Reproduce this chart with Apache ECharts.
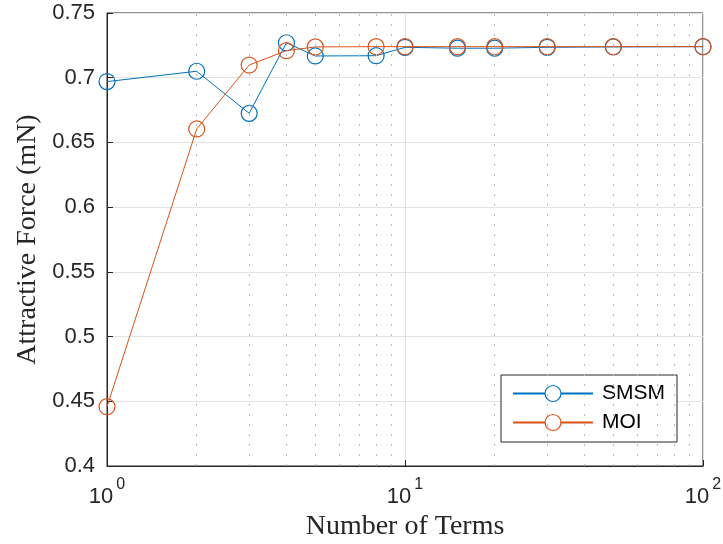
<!DOCTYPE html>
<html>
<head>
<meta charset="utf-8">
<script src="https://cdn.jsdelivr.net/npm/echarts@6/dist/echarts.min.js"></script>
<style>html,body{margin:0;padding:0;background:#fff;}#c{width:723px;height:544px;}</style>
</head>
<body>
<div id="c"></div>
<script>
const terms = [1, 2, 3, 4, 5, 8, 10, 15, 20, 30, 50, 100];
const smsm = [0.697, 0.705, 0.6725, 0.727, 0.7168, 0.717, 0.7235, 0.7228, 0.7228, 0.7235, 0.7238, 0.724];
const moi  = [0.4458, 0.6604, 0.7098, 0.7209, 0.7238, 0.724, 0.724, 0.724, 0.724, 0.724, 0.724, 0.724];
const minorX = [2, 3, 4, 5, 6, 7, 8, 9, 20, 30, 40, 50, 60, 70, 80, 90];
const yTicks = [0.4, 0.45, 0.5, 0.55, 0.6, 0.65, 0.7, 0.75];

const chart = echarts.init(document.getElementById('c'), null, {renderer: 'canvas'});
const axisColor = '#262626';
const blue = '#0072BD', orange = '#D95319';

chart.setOption({
  animation: false,
  backgroundColor: '#ffffff',
  grid: {left: 107, right: 20, top: 13, bottom: 78, show: true, borderColor: axisColor, borderWidth: 1,
         backgroundColor: 'transparent', containLabel: false, outerBoundsMode: 'none'},
  legend: {
    left: 501, top: 375, orient: 'vertical',
    backgroundColor: '#ffffff', borderColor: axisColor, borderWidth: 1,
    padding: [8, 12, 9, 11], itemGap: 8, itemWidth: 80, itemHeight: 20,
    textStyle: {fontFamily: 'Liberation Sans, Arial, sans-serif', fontSize: 21, color: '#000', padding: [0, 0, 0, 4]},
    data: [
      {name: 'SMSM', itemStyle: {color: '#ffffff', borderColor: blue, borderWidth: 1.2}},
      {name: 'MOI', itemStyle: {color: '#ffffff', borderColor: orange, borderWidth: 1.2}}
    ]
  },
  xAxis: [{
    type: 'log', logBase: 10, min: 1, max: 100,
    name: 'Number of Terms', nameLocation: 'middle', nameGap: 45,
    nameTextStyle: {fontFamily: 'Liberation Serif, Times New Roman, serif', fontSize: 28, color: axisColor},
    axisLine: {show: true, lineStyle: {color: axisColor, width: 1}},
    axisTick: {show: true, inside: true, length: 6, lineStyle: {color: axisColor}},
    splitLine: {show: true, lineStyle: {color: '#e3e3e3', width: 1}},
    axisLabel: {
      margin: 11,
      formatter: function (v) { const e = Math.round(Math.log10(v)); return '{b|10}{s|' + e + '}'; },
      rich: {
        b: {fontFamily: 'Liberation Sans, Arial, sans-serif', fontSize: 22, color: axisColor, verticalAlign: 'bottom'},
        s: {fontFamily: 'Liberation Sans, Arial, sans-serif', fontSize: 16, color: axisColor, verticalAlign: 'bottom', padding: [0, 0, 15, 3]}
      }
    }
  }],
  yAxis: [{
    type: 'value', min: 0.4, max: 0.75, interval: 0.05,
    name: 'Attractive Force (mN)', nameLocation: 'middle', nameGap: 64, nameRotate: 90,
    nameTextStyle: {fontFamily: 'Liberation Serif, Times New Roman, serif', fontSize: 28, color: axisColor},
    axisLine: {show: true, lineStyle: {color: axisColor, width: 1}},
    axisTick: {show: true, inside: true, length: 6, lineStyle: {color: axisColor}},
    splitLine: {show: true, lineStyle: {color: '#e3e3e3', width: 1}},
    axisLabel: {
      margin: 12, fontFamily: 'Liberation Sans, Arial, sans-serif', fontSize: 22, color: axisColor,
      formatter: function (v) { return String(+v.toFixed(2)); }
    }
  }],
  series: [
    {
      name: 'minor', type: 'line', data: [], silent: true,
      markLine: {
        silent: true, symbol: 'none', label: {show: false},
        lineStyle: {color: '#bdbdbd', type: [2, 8], width: 1},
        data: minorX.map(v => ({xAxis: v}))
      }
    },
    {
      name: 'SMSM', type: 'line', data: terms.map((t, i) => [t, smsm[i]]),
      symbol: 'circle', symbolSize: 16,
      lineStyle: {color: blue, width: 1},
      itemStyle: {color: 'rgba(0,0,0,0)', borderColor: blue, borderWidth: 1.2},
      z: 3
    },
    {
      name: 'MOI', type: 'line', data: terms.map((t, i) => [t, moi[i]]),
      symbol: 'circle', symbolSize: 16,
      lineStyle: {color: orange, width: 1},
      itemStyle: {color: 'rgba(0,0,0,0)', borderColor: orange, borderWidth: 1.2},
      z: 4
    }
  ]
});
</script>
</body>
</html>
